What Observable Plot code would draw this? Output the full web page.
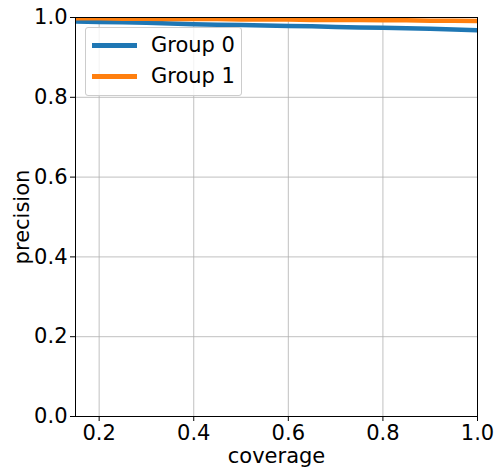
<!DOCTYPE html>
<html>
<head>
<meta charset="utf-8">
<script src="https://cdn.jsdelivr.net/npm/d3@7"></script>
<script src="https://cdn.jsdelivr.net/npm/@observablehq/plot@0.6"></script>
<style>
  html, body { margin: 0; padding: 0; background: #fff; }
  #wrap { position: relative; width: 496px; height: 473px; font-family: "DejaVu Sans", sans-serif; }
  #legend {
    position: absolute; left: 85px; top: 27px; width: 157px; height: 69px;
    background: rgba(255,255,255,0.8); border: 1px solid #cccccc; border-radius: 3px;
    box-sizing: border-box;
  }
  .item { position: absolute; left: 6px; height: 24px; display: flex; align-items: center; }
  .swatch { width: 45px; height: 5px; margin-right: 14px; }
  .item span { font-size: 21px; color: #000; line-height: 24px; }
</style>
</head>
<body>
<div id="wrap"></div>
<script>
// Precision as a function of coverage for two groups
const coverage = [0.15, 0.2, 0.25, 0.3, 0.35, 0.4, 0.45, 0.5, 0.55, 0.6, 0.65, 0.7, 0.75, 0.8, 0.85, 0.9, 0.95, 1.0];
const group0 = [0.990, 0.989, 0.988, 0.987, 0.985, 0.983, 0.982, 0.981, 0.980, 0.979, 0.978, 0.976, 0.975, 0.974, 0.973, 0.972, 0.970, 0.968];
const group1 = [0.998, 0.998, 0.997, 0.997, 0.996, 0.996, 0.996, 0.995, 0.995, 0.995, 0.994, 0.994, 0.994, 0.993, 0.993, 0.992, 0.992, 0.991];
const groups = ["Group 0", "Group 1"];
const colors = ["#1f77b4", "#ff7f0e"];
const xTicks = [0.2, 0.4, 0.6, 0.8, 1.0];
const yTicks = [0.0, 0.2, 0.4, 0.6, 0.8, 1.0];

const rows = [];
[group0, group1].forEach((vals, g) => {
  vals.forEach((v, i) => rows.push({coverage: coverage[i], precision: v, group: groups[g]}));
});

const chart = Plot.plot({
  width: 496,
  height: 473,
  marginLeft: 75,
  marginRight: 19,
  marginTop: 17,
  marginBottom: 57,
  style: {fontFamily: "DejaVu Sans, sans-serif", fontSize: "21px", color: "#000", background: "#fff"},
  x: {domain: [0.15, 1.0]},
  y: {domain: [0, 1]},
  color: {domain: groups, range: colors},
  marks: [
    Plot.gridX(xTicks, {stroke: "#b0b0b0", strokeOpacity: 1, strokeWidth: 0.8}),
    Plot.gridY(yTicks, {stroke: "#b0b0b0", strokeOpacity: 1, strokeWidth: 0.8}),
    Plot.axisX(xTicks, {tickSize: 5, tickPadding: 4, tickFormat: d3.format(".1f"), label: null, fontSize: 21}),
    Plot.axisY(yTicks, {tickSize: 5, tickPadding: 3, tickFormat: d3.format(".1f"), label: null, fontSize: 21}),
    Plot.line(rows, {x: "coverage", y: "precision", stroke: "group", strokeWidth: 4.5, clip: true, strokeLinejoin: "round", strokeLinecap: "butt"}),
    Plot.frame({stroke: "#000", strokeWidth: 1}),
    Plot.text(["coverage"], {frameAnchor: "bottom", dy: 46, text: d => d, fontSize: 21, textAnchor: "middle"}),
    Plot.text(["precision"], {frameAnchor: "left", dx: -53, rotate: -90, text: d => d, fontSize: 21, textAnchor: "middle"})
  ]
});

const wrap = document.getElementById("wrap");
wrap.appendChild(chart);

const legend = document.createElement("div");
legend.id = "legend";
groups.forEach((g, i) => {
  const item = document.createElement("div");
  item.className = "item";
  item.style.top = (5 + i * 31) + "px";
  const sw = document.createElement("div");
  sw.className = "swatch";
  sw.style.background = colors[i];
  const label = document.createElement("span");
  label.textContent = g;
  item.appendChild(sw);
  item.appendChild(label);
  legend.appendChild(item);
});
wrap.appendChild(legend);
</script>
</body>
</html>
